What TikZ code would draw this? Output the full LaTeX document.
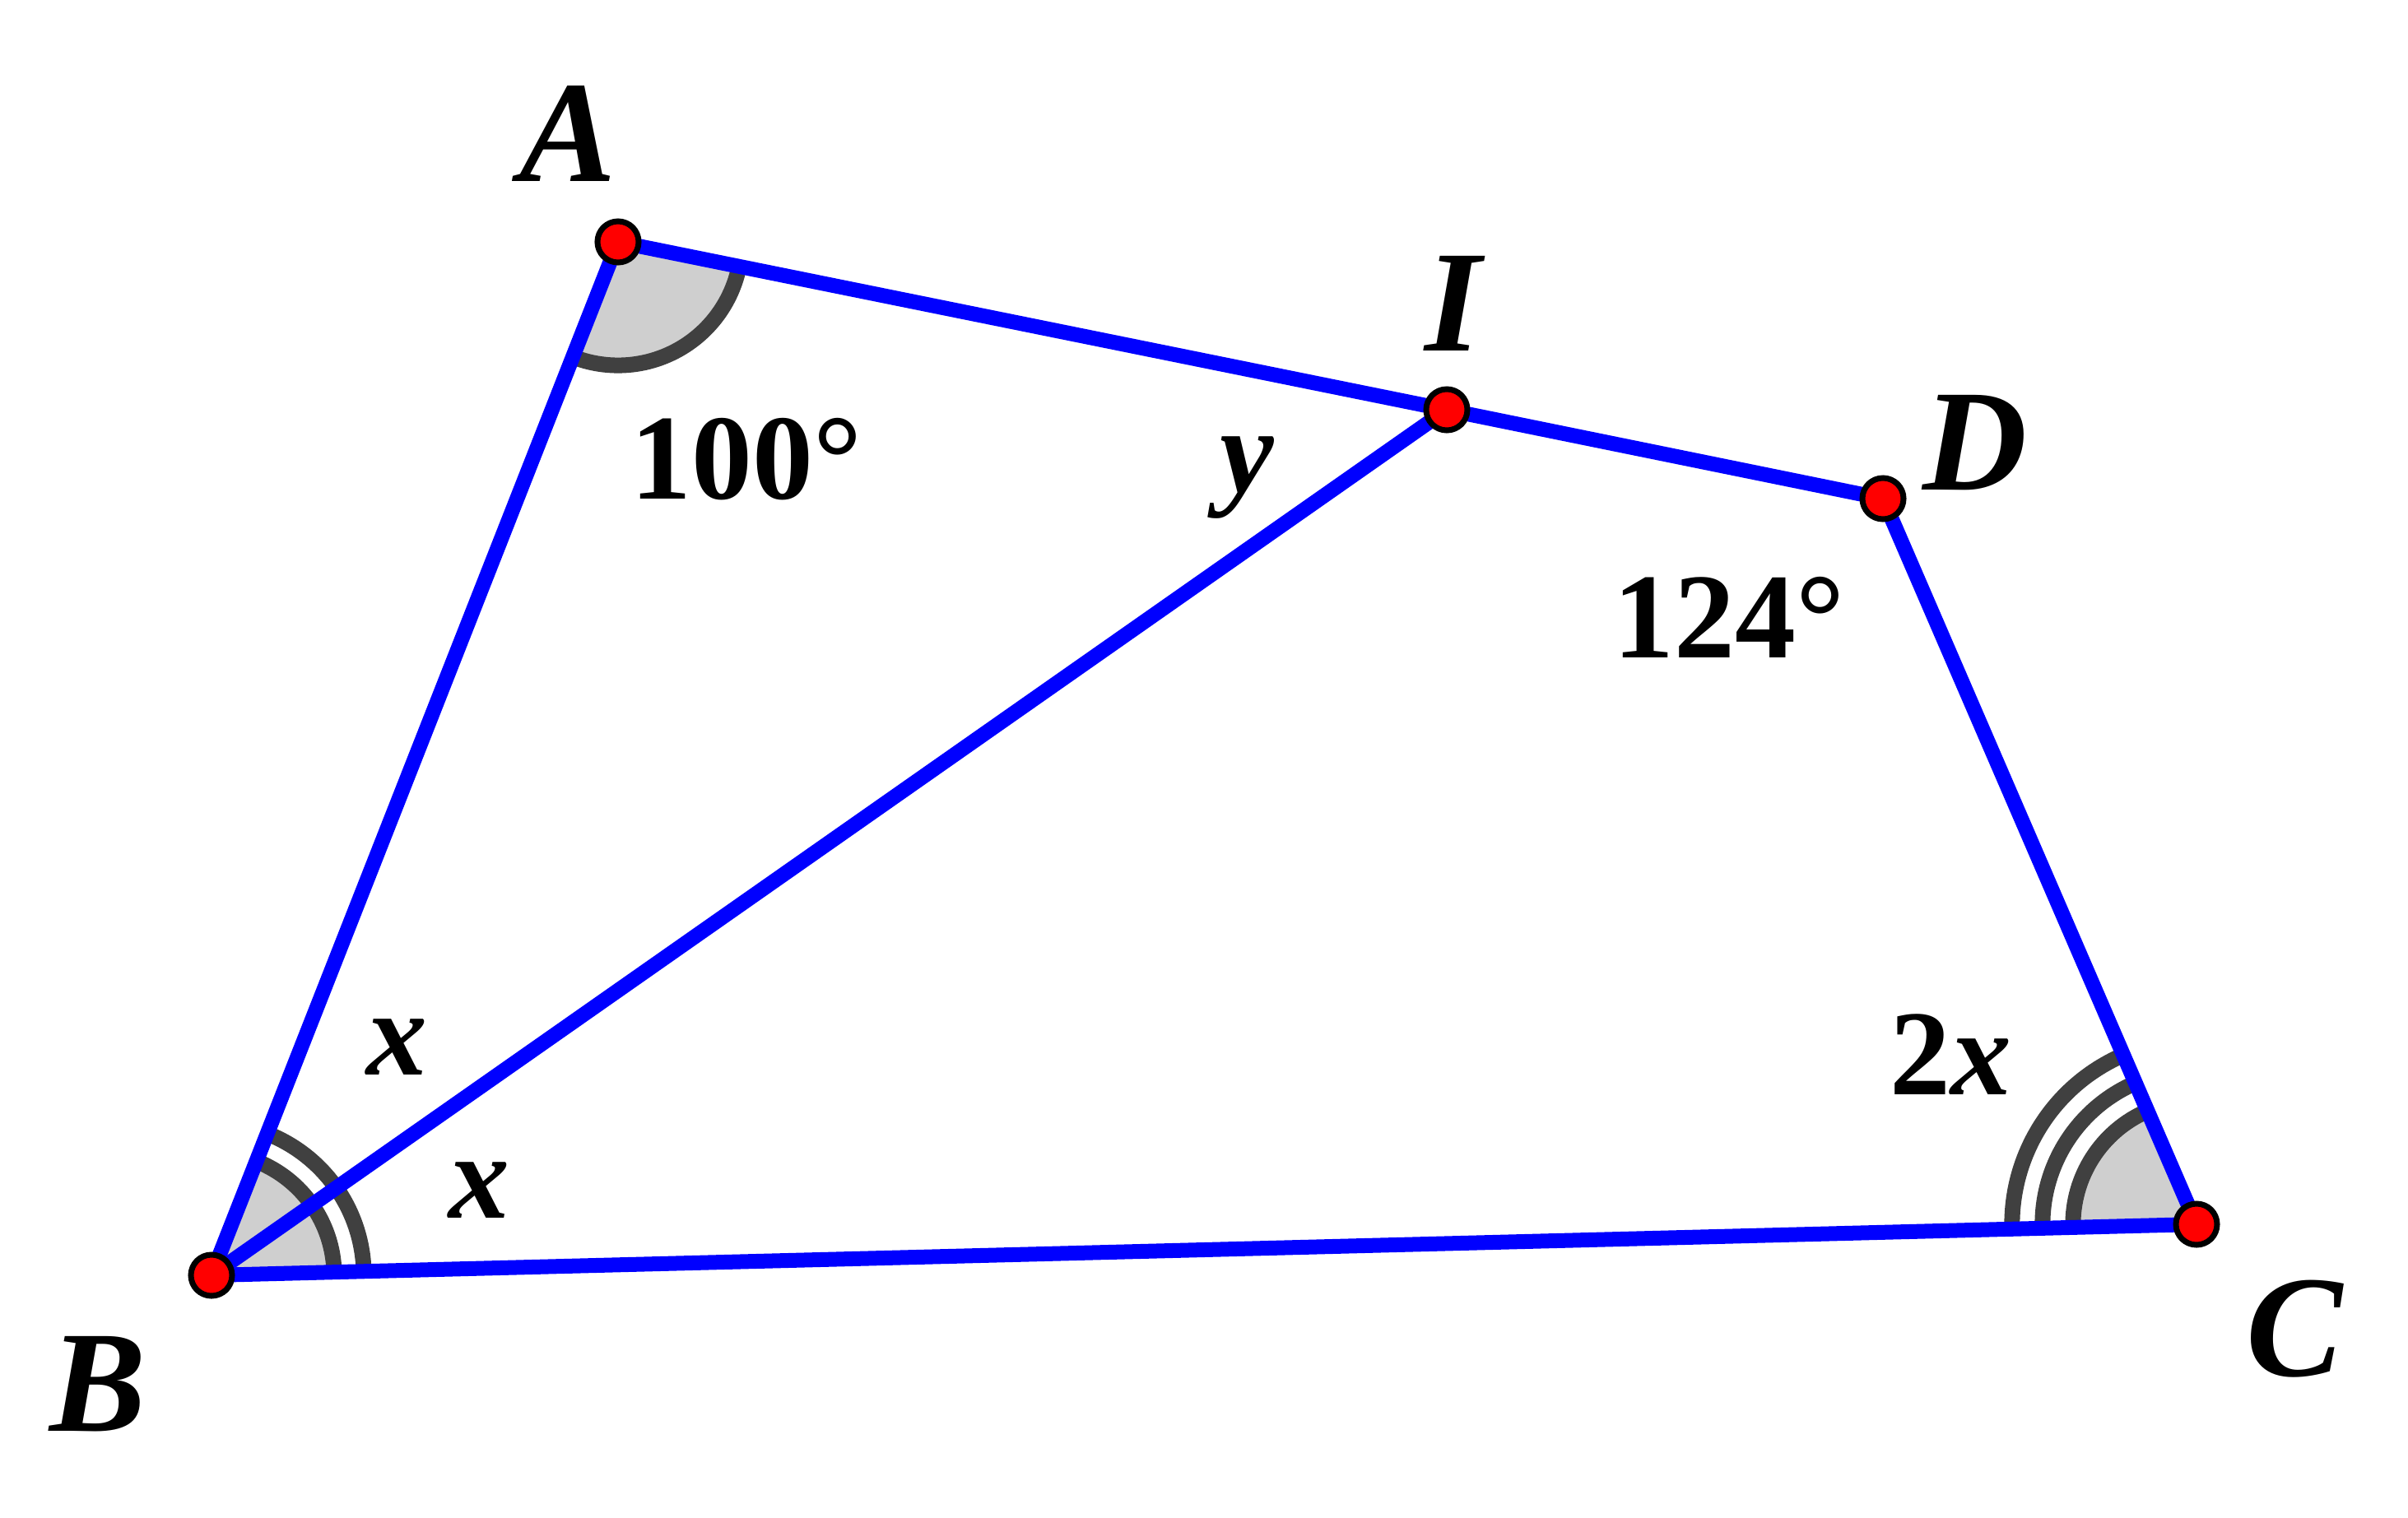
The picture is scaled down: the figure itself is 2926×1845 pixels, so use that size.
\documentclass[tikz,border=0pt]{standalone}
\usepackage{fontspec}
\setmainfont{LiberationSerif}[Extension=.ttf,UprightFont=*-Regular,BoldFont=*-Bold,ItalicFont=*-Italic,BoldItalicFont=*-BoldItalic]
\usetikzlibrary{angles,positioning}
\definecolor{arcgray}{HTML}{404040}
\definecolor{fillgray}{HTML}{CFCFCF}

\begin{document}
\begin{tikzpicture}[x=0.01cm,y=-0.01cm,
  side/.style={blue,line width=0.18cm},
  anglemark/.style={draw=arcgray,fill=fillgray,line width=0.19cm},
  arconly/.style={draw=arcgray,line width=0.19cm},
  vertex/.style={fill=red,draw=black,line width=0.07cm},
  ptlabel/.style={font=\fontsize{50}{60}\selectfont\bfseries\itshape,anchor=base,inner sep=0pt},
  anglabel/.style={font=\fontsize{42}{50}\selectfont\bfseries,anchor=base,inner sep=0pt}]

\useasboundingbox (0,0) rectangle (2926,1845);

% the points
\def\pts{A/751/294,I/1758/498,D/2288/606,C/2669/1488,B/257/1550}
\foreach \p / \x / \y in \pts
  \coordinate (\p) at (\x,\y);

% angle marks
\pic [anglemark,angle radius=1.5cm] {angle=B--A--I};
\pic [arconly,angle radius=1.85cm] {angle=C--B--A};
\pic [anglemark,angle radius=1.49cm] {angle=C--B--A};
\pic [arconly,angle radius=2.24cm] {angle=D--C--B};
\pic [arconly,angle radius=1.87cm] {angle=D--C--B};
\pic [anglemark,angle radius=1.5cm] {angle=D--C--B};

% sides
\draw [side] (A) -- (I) -- (D) -- (C) -- (B) -- cycle;
\draw [side] (B) -- (I);

\foreach \p in {A,I,D,C,B}
  \draw [vertex] (\p) circle (0.25cm);

% labels
\def\names{A/690/220,I/1766/426,D/2400/595,B/119/1739,C/2788/1672}
\foreach \p / \x / \y in \names
  \node [ptlabel] (l\p) at (\x,\y) {\p};

\node [anglabel] (a100) at (907,606) {100°};
\node [anglabel] (a124) at (2101,799) {124°};
\node [anglabel] (a2x) at (2370,1330) {2\textit{x}};
\node [anglabel,font=\fontsize{42}{50}\selectfont\bfseries\itshape] (ax1) at (482,1306) {x};
\node [anglabel,font=\fontsize{42}{50}\selectfont\bfseries\itshape] (ax2) at (582,1480) {x};
\node [anglabel,font=\fontsize{42}{50}\selectfont\bfseries\itshape] (ay) at (1515,598) {y};

\end{tikzpicture}
\end{document}
